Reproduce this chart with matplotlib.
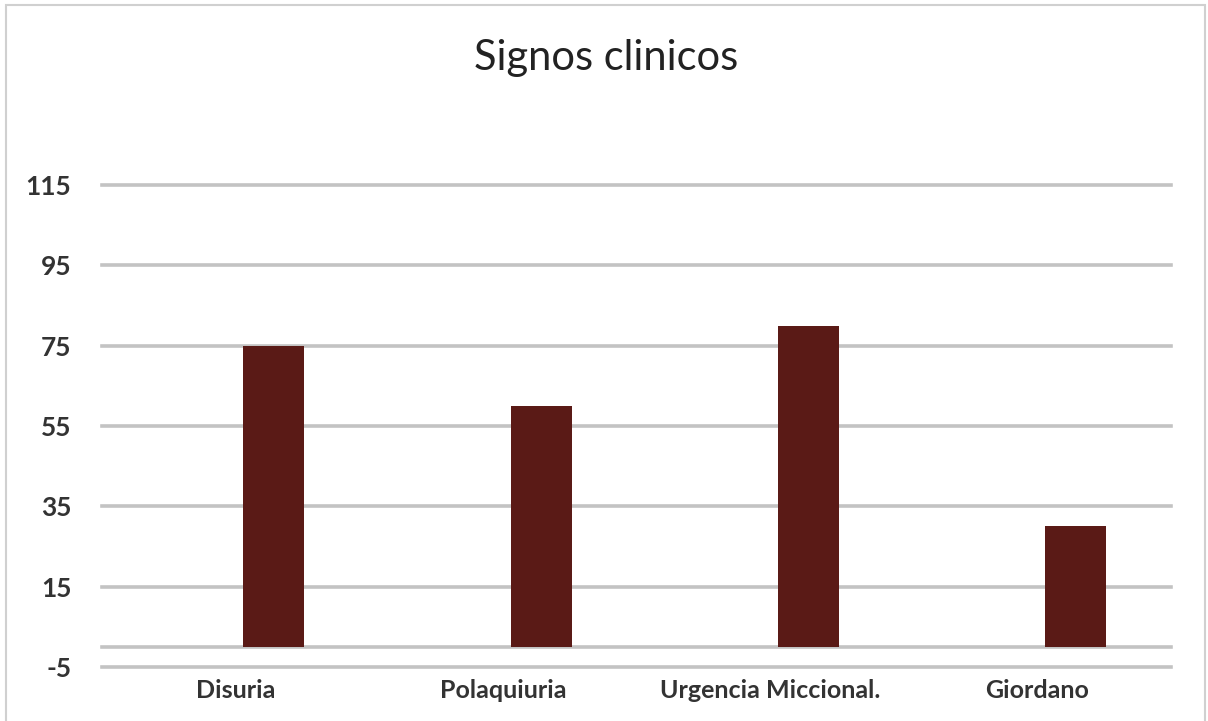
import matplotlib.pyplot as plt
from matplotlib.patches import Rectangle

# signos clinicos por categoria
categorias = ['Disuria', 'Polaquiuria', 'Urgencia Miccional.', 'Giordano']
valores = [75, 60, 80, 30]
ticks_y = [-5, 15, 35, 55, 75, 95, 115]

plt.rcParams['font.family'] = ['Lato', 'DejaVu Sans']
plt.rcParams['axes.unicode_minus'] = False

fig = plt.figure(figsize=(12.08, 7.21), dpi=100)
ax = fig.add_axes([102/1208, (721-667)/721, 1069/1208, (667-185)/721])

x = list(range(len(categorias)))
ancho = 0.228
desplazamiento = 0.143
ax.bar([i + desplazamiento for i in x], valores, width=ancho,
       color='#5a1a16', zorder=3)

ax.set_xlim(-0.5, len(categorias) - 0.5)
ax.set_ylim(ticks_y[0], ticks_y[-1])
ax.set_yticks(ticks_y)
ax.set_xticks(x)
ax.set_xticklabels(categorias)

for y in ticks_y + [0]:
    ax.axhline(y, color='#c3c3c3', lw=2.6, zorder=1, clip_on=False)

for s in ax.spines.values():
    s.set_visible(False)
ax.tick_params(axis='both', length=0, colors='#333333')
ax.tick_params(axis='y', pad=22, labelsize=19)
ax.tick_params(axis='x', pad=9, labelsize=18)
for lbl in ax.get_xticklabels() + ax.get_yticklabels():
    lbl.set_fontweight('bold')

fig.text(606/1208, 1 - 58/721, 'Signos clinicos', ha='center', va='center',
         fontsize=30, color='#222222')

# marco del grafico
fig.patches.append(Rectangle((6/1208, -0.02), 1199/1208, 1.02 - 5/721,
                             transform=fig.transFigure, fill=False,
                             edgecolor='#d0d0d0', lw=1.5))

fig.savefig('out.png', dpi=100, facecolor='white')
